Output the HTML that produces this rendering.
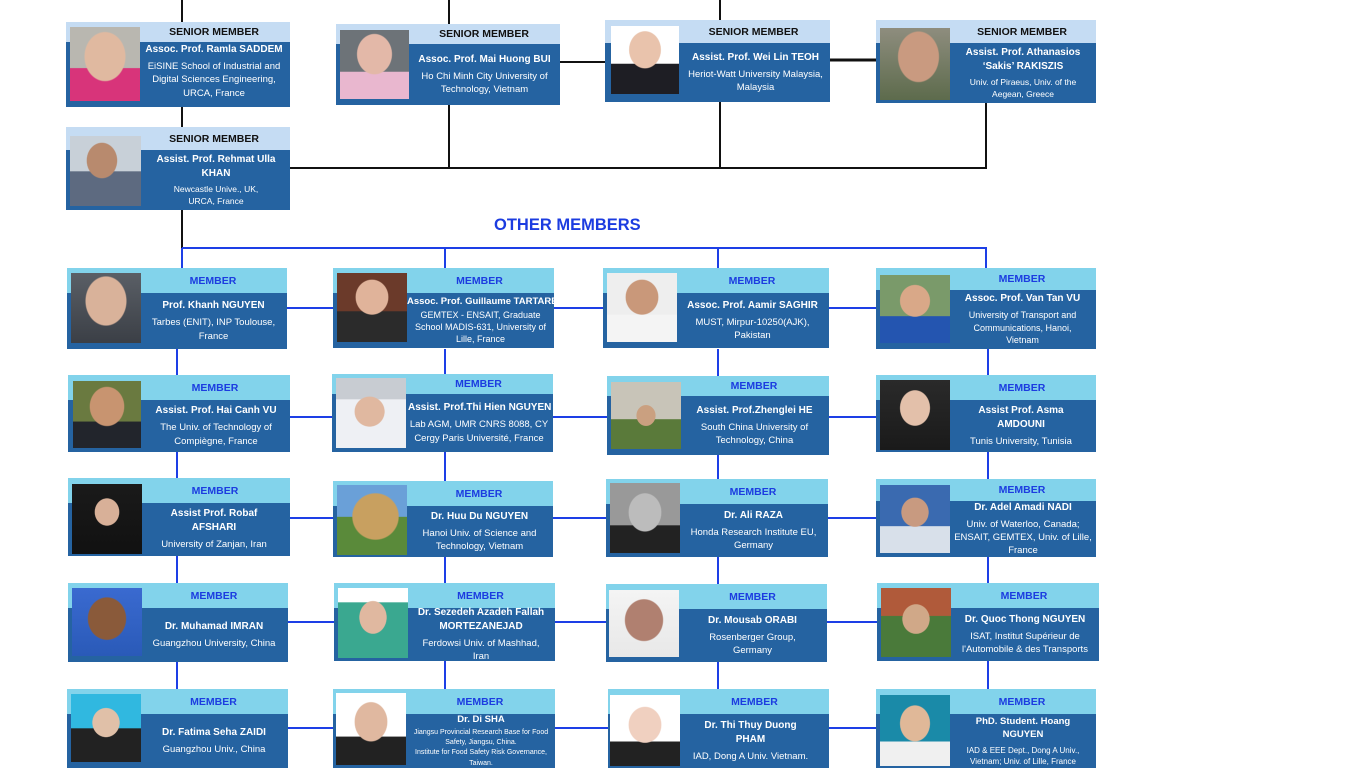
<!DOCTYPE html>
<html><head><meta charset="utf-8"><style>
*{margin:0;padding:0;box-sizing:border-box}
body{width:1366px;height:768px;background:#fff;position:relative;overflow:hidden;font-family:"Liberation Sans",sans-serif}
svg.l{position:absolute;left:0;top:0}
.c{position:absolute;background:#2563a1;overflow:hidden}
.hd{position:absolute;left:0;right:0;top:0;padding-left:72px;text-align:center;font-weight:bold;font-size:10.5px;display:flex;align-items:center;justify-content:center}
.s .hd{background:#c5dcf3;color:#111;height:20px}
.m .hd{background:#82d3eb;color:#1c3ce0;height:25px}
.ph{position:absolute;left:4px;top:5px;width:70px;bottom:6px;background:radial-gradient(ellipse 30% 36% at 50% 40%,#d9b29a 0 95%,transparent 100%),linear-gradient(#5a5f66,#3b3f46)}
.tx{position:absolute;left:80px;right:7px;bottom:0;display:flex;flex-direction:column;justify-content:center;text-align:center;color:#fff;font-size:9.5px;line-height:1.4}
.s .tx{top:20px}.m .tx{top:25px}
.tx b{font-size:10px;display:block;margin-bottom:3px}
.om{position:absolute;left:494px;top:216px;color:#1c3ce0;font-weight:bold;font-size:16.5px}
</style></head><body>
<svg class="l" width="1366" height="768">
<g stroke="#111" stroke-width="2" fill="none">
<path d="M182 0V22M182 107V127M182 210V248M449 0V24M720 0V20M449 105V168M720 102V168M986 103V168M290 168H987M560 62H605"/>
<path d="M830 60H876" stroke-width="3"/>
</g>
<g stroke="#1d3fe6" stroke-width="2" fill="none">
<path d="M182 248H987M182 248V268M445 248V268M718 248V268M986 248V268"/>
<path d="M177 349V689M445 349V689M718 349V689M988 349V689"/>
<path d="M287 308H876M290 417H876M290 518H876M288 622H877M288 728H876"/>
</g>
</svg>

<div class="c s" style="left:66px;top:22px;width:224px;height:85px"><div class="hd">SENIOR MEMBER</div><div class="ph" style="background:radial-gradient(ellipse 30% 34% at 50% 40%,#e0b9a0 0 95%,transparent 100%),linear-gradient(#b9b7b0 0 55%,#d8347a 56%)"></div><div class="tx" style="left:76px;right:4px;padding-bottom:6px"><b>Assoc. Prof. Ramla SADDEM</b>EiSINE School of Industrial and Digital Sciences Engineering, URCA, France</div></div>

<div class="c s" style="left:336px;top:24px;width:224px;height:81px"><div class="hd">SENIOR MEMBER</div><div class="ph" style="top:6px;bottom:6px;width:69px;background:radial-gradient(ellipse 26% 30% at 50% 35%,#e3b8a8 0 95%,transparent 100%),linear-gradient(#6d7378 0 60%,#e9b7cf 61%)"></div><div class="tx"><b>Assoc. Prof. Mai Huong BUI</b>Ho Chi Minh City University of Technology, Vietnam</div></div>

<div class="c s" style="left:605px;top:20px;width:225px;height:82px"><div class="hd" style="height:23px">SENIOR MEMBER</div><div class="ph" style="left:6px;top:6px;width:68px;bottom:8px;background:radial-gradient(ellipse 24% 28% at 50% 35%,#e9c3ac 0 95%,transparent 100%),linear-gradient(#fff 0 55%,#1e1e24 56%)"></div><div class="tx" style="top:23px;left:78px;right:2px"><b>Assist. Prof. Wei Lin TEOH</b>Heriot-Watt University Malaysia, Malaysia</div></div>

<div class="c s" style="left:876px;top:20px;width:220px;height:83px"><div class="hd" style="height:23px">SENIOR MEMBER</div><div class="ph" style="top:8px;bottom:3px;background:radial-gradient(ellipse 30% 36% at 55% 40%,#c99a80 0 95%,transparent 100%),linear-gradient(#8e8d7e,#5d6b4c)"></div><div class="tx" style="top:23px;font-size:8.5px;left:84px;right:10px"><b>Assist. Prof. Athanasios ‘Sakis’ RAKISZIS</b>Univ. of Piraeus, Univ. of the Aegean, Greece</div></div>

<div class="c s" style="left:66px;top:127px;width:224px;height:83px"><div class="hd" style="height:23px">SENIOR MEMBER</div><div class="ph" style="top:9px;bottom:4px;width:71px;background:radial-gradient(ellipse 22% 26% at 45% 35%,#b88a6e 0 95%,transparent 100%),linear-gradient(#c8d0d8 0 50%,#5d6a80 51%)"></div><div class="tx" style="top:23px;font-size:8.5px;left:86px;right:10px"><b>Assist. Prof. Rehmat Ulla KHAN</b>Newcastle Unive., UK,<br>URCA, France</div></div>

<div class="om">OTHER MEMBERS</div>

<!-- row 1 -->
<div class="c m" style="left:67px;top:268px;width:220px;height:81px"><div class="hd">MEMBER</div><div class="ph"></div><div class="tx"><b>Prof. Khanh NGUYEN</b>Tarbes (ENIT), INP Toulouse, France</div></div>
<div class="c m" style="left:333px;top:268px;width:221px;height:80px"><div class="hd">MEMBER</div><div class="ph" style="background:radial-gradient(ellipse 24% 26% at 50% 35%,#e0b39a 0 95%,transparent 100%),linear-gradient(#6b3a2a 0 55%,#2b2b2b 56%)"></div><div class="tx" style="left:74px;right:0;font-size:9px;line-height:1.35"><b style="margin-bottom:0;white-space:nowrap;font-size:9.5px">Assoc. Prof. Guillaume TARTARE</b>GEMTEX - ENSAIT, Graduate School MADIS-631, University of Lille, France</div></div>
<div class="c m" style="left:603px;top:268px;width:226px;height:80px"><div class="hd">MEMBER</div><div class="ph" style="background:radial-gradient(ellipse 24% 26% at 50% 35%,#c9987a 0 95%,transparent 100%),linear-gradient(#eee 0 60%,#f4f4f4 61%)"></div><div class="tx"><b>Assoc. Prof. Aamir SAGHIR</b>MUST, Mirpur-10250(AJK), Pakistan</div></div>
<div class="c m" style="left:876px;top:268px;width:220px;height:81px"><div class="hd" style="height:22px">MEMBER</div><div class="ph" style="top:7px;background:radial-gradient(ellipse 22% 24% at 50% 38%,#d9a888 0 95%,transparent 100%),linear-gradient(#7a9a6a 0 60%,#2455b0 61%)"></div><div class="tx" style="top:22px;font-size:9px"><b>Assoc. Prof. Van Tan VU</b>University of Transport and Communications, Hanoi, Vietnam</div></div>

<!-- row 2 -->
<div class="c m" style="left:68px;top:375px;width:222px;height:77px"><div class="hd">MEMBER</div><div class="ph" style="left:5px;top:6px;bottom:4px;width:68px;background:radial-gradient(ellipse 26% 30% at 50% 38%,#c89470 0 95%,transparent 100%),linear-gradient(#6a7a40 0 60%,#22252c 61%)"></div><div class="tx" style="left:84px;right:10px"><b>Assist. Prof. Hai Canh VU</b>The Univ. of Technology of Compiègne, France</div></div>
<div class="c m" style="left:332px;top:374px;width:221px;height:78px"><div class="hd" style="height:20px">MEMBER</div><div class="ph" style="top:4px;bottom:4px;background:radial-gradient(ellipse 22% 22% at 48% 48%,#e0b8a0 0 95%,transparent 100%),linear-gradient(#c8ccd2 0 30%,#eef0f4 31%)"></div><div class="tx" style="top:20px;left:76px;right:3px"><b style="white-space:nowrap">Assist. Prof.Thi Hien NGUYEN</b>Lab AGM, UMR CNRS 8088, CY Cergy Paris Université, France</div></div>
<div class="c m" style="left:607px;top:376px;width:222px;height:79px"><div class="hd" style="height:20px">MEMBER</div><div class="ph" style="top:6px;background:radial-gradient(ellipse 14% 16% at 50% 50%,#caa080 0 95%,transparent 100%),linear-gradient(#c8c4b8 0 55%,#5a7a3a 56%)"></div><div class="tx" style="top:20px"><b>Assist. Prof.Zhenglei HE</b>South China University of Technology, China</div></div>
<div class="c m" style="left:876px;top:375px;width:220px;height:77px"><div class="hd">MEMBER</div><div class="ph" style="bottom:2px;background:radial-gradient(ellipse 22% 26% at 50% 40%,#e3c0aa 0 95%,transparent 100%),linear-gradient(#2a2a2a,#1a1a1a)"></div><div class="tx" style="left:84px;right:14px"><b>Assist Prof. Asma AMDOUNI</b>Tunis University, Tunisia</div></div>

<!-- row 3 -->
<div class="c m" style="left:68px;top:478px;width:222px;height:78px"><div class="hd">MEMBER</div><div class="ph" style="top:6px;bottom:2px;background:radial-gradient(ellipse 18% 20% at 50% 40%,#d8b098 0 95%,transparent 100%),linear-gradient(#1a1a1a,#111)"></div><div class="tx" style="left:84px;right:14px"><b>Assist Prof. Robaf AFSHARI</b>University of Zanjan, Iran</div></div>
<div class="c m" style="left:333px;top:481px;width:220px;height:76px"><div class="hd">MEMBER</div><div class="ph" style="top:4px;bottom:2px;background:radial-gradient(ellipse 34% 34% at 55% 45%,#c8a060 0 95%,transparent 100%),linear-gradient(#6aa0d8 0 45%,#5a8a3a 46%)"></div><div class="tx"><b>Dr. Huu Du NGUYEN</b>Hanoi Univ. of Science and Technology, Vietnam</div></div>
<div class="c m" style="left:606px;top:479px;width:222px;height:78px"><div class="hd">MEMBER</div><div class="ph" style="top:4px;bottom:4px;background:radial-gradient(ellipse 24% 28% at 50% 42%,#bcbcbc 0 95%,transparent 100%),linear-gradient(#999 0 60%,#222 61%)"></div><div class="tx"><b>Dr. Ali RAZA</b>Honda Research Institute EU, Germany</div></div>
<div class="c m" style="left:876px;top:479px;width:220px;height:78px"><div class="hd" style="height:22px">MEMBER</div><div class="ph" style="top:6px;bottom:4px;background:radial-gradient(ellipse 20% 22% at 50% 40%,#c89a80 0 95%,transparent 100%),linear-gradient(#3a6ab0 0 60%,#d8e0ea 61%)"></div><div class="tx" style="top:22px;left:76px;right:2px"><b>Dr. Adel Amadi NADI</b>Univ. of Waterloo, Canada; ENSAIT, GEMTEX, Univ. of Lille, France</div></div>

<!-- row 4 -->
<div class="c m" style="left:68px;top:583px;width:220px;height:79px"><div class="hd">MEMBER</div><div class="ph" style="background:radial-gradient(ellipse 28% 32% at 50% 45%,#8a5a3a 0 95%,transparent 100%),linear-gradient(#3a6ad0,#2a5ab8)"></div><div class="tx" style="left:84px;right:12px"><b>Dr. Muhamad IMRAN</b>Guangzhou University, China</div></div>
<div class="c m" style="left:334px;top:583px;width:221px;height:78px"><div class="hd">MEMBER</div><div class="ph" style="bottom:3px;background:radial-gradient(ellipse 20% 24% at 50% 42%,#e0b8a0 0 95%,transparent 100%),linear-gradient(#fff 0 20%,#3aa890 21%)"></div><div class="tx"><b>Dr. Sezedeh Azadeh Fallah MORTEZANEJAD</b>Ferdowsi Univ. of Mashhad, Iran</div></div>
<div class="c m" style="left:606px;top:584px;width:221px;height:78px"><div class="hd">MEMBER</div><div class="ph" style="left:3px;top:6px;bottom:5px;background:radial-gradient(ellipse 28% 32% at 50% 45%,#b08070 0 95%,transparent 100%),linear-gradient(#f4f4f4,#e8e8e8)"></div><div class="tx" style="left:84px;right:12px"><b>Dr. Mousab ORABI</b>Rosenberger Group, Germany</div></div>
<div class="c m" style="left:877px;top:583px;width:222px;height:78px"><div class="hd">MEMBER</div><div class="ph" style="top:5px;bottom:4px;background:radial-gradient(ellipse 20% 22% at 50% 45%,#d0a888 0 95%,transparent 100%),linear-gradient(#b05a3a 0 40%,#4a7a3a 41%)"></div><div class="tx" style="left:76px;right:2px"><b>Dr. Quoc Thong NGUYEN</b>ISAT, Institut Supérieur de l'Automobile &amp; des Transports</div></div>

<!-- row 5 -->
<div class="c m" style="left:67px;top:689px;width:221px;height:79px"><div class="hd">MEMBER</div><div class="ph" style="background:radial-gradient(ellipse 20% 22% at 50% 42%,#e0c0a8 0 95%,transparent 100%),linear-gradient(#30b8e0 0 50%,#222 51%)"></div><div class="tx"><b>Dr. Fatima Seha ZAIDI</b>Guangzhou Univ., China</div></div>
<div class="c m" style="left:333px;top:689px;width:222px;height:79px"><div class="hd">MEMBER</div><div class="ph" style="left:3px;top:4px;bottom:3px;background:radial-gradient(ellipse 24% 28% at 50% 40%,#e0b8a0 0 95%,transparent 100%),linear-gradient(#fff 0 60%,#222 61%)"></div><div class="tx" style="left:74px;right:0;font-size:7px;line-height:1.45"><b style="font-size:9.5px;margin-bottom:1px">Dr. Di SHA</b>Jiangsu Provincial Research Base for Food Safety, Jiangsu, China.<br>Institute for Food Safety Risk Governance, Taiwan.</div></div>
<div class="c m" style="left:608px;top:689px;width:221px;height:79px"><div class="hd">MEMBER</div><div class="ph" style="left:2px;top:6px;bottom:2px;background:radial-gradient(ellipse 24% 26% at 50% 42%,#f0d0c0 0 95%,transparent 100%),linear-gradient(#fff 0 65%,#222 66%)"></div><div class="tx" style="left:78px;right:14px"><b style="padding:0 16px">Dr. Thi Thuy Duong PHAM</b>IAD, Dong A Univ. Vietnam.</div></div>
<div class="c m" style="left:876px;top:689px;width:220px;height:79px"><div class="hd">MEMBER</div><div class="ph" style="top:6px;bottom:2px;background:radial-gradient(ellipse 22% 26% at 50% 40%,#e0b898 0 95%,transparent 100%),linear-gradient(#1a8aa8 0 65%,#f0f0f0 66%)"></div><div class="tx" style="font-size:8px;left:84px;right:10px"><b style="font-size:9.5px">PhD. Student. Hoang NGUYEN</b>IAD &amp; EEE Dept., Dong A Univ., Vietnam; Univ. of Lille, France</div></div>
</body></html>
